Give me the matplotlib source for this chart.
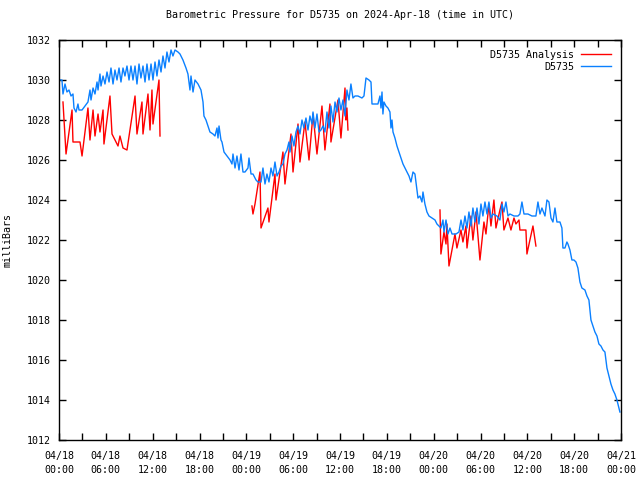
import matplotlib
matplotlib.use("Agg")
import matplotlib.pyplot as plt
import numpy as np

# hours since 2024-04-18 00:00 UTC
obs_hours = [
    0.13, 0.38, 0.51, 0.77, 1.02, 1.28, 1.54, 1.79, 1.92, 2.18, 2.43, 2.56, 2.95, 3.33, 3.71,
    3.97, 4.10, 4.36, 4.61, 4.87, 5.00, 5.25, 5.38, 5.64, 5.89, 6.15, 6.41, 6.66, 6.92, 7.17,
    7.43, 7.69, 7.94, 8.20, 8.45, 8.71, 8.97, 9.22, 9.48, 9.74, 9.99, 10.25, 10.50, 10.76,
    11.02, 11.27, 11.53, 11.79, 12.04, 12.30, 12.55, 12.81, 13.07, 13.32, 13.58, 13.83,
    14.09, 14.35, 14.60, 14.86, 15.24, 15.50, 15.88, 16.27, 16.52, 16.78, 16.91, 17.17,
    17.42, 17.81, 18.19, 18.45, 18.57, 18.83, 19.09, 19.34, 19.73, 19.98, 20.24, 20.37,
    20.50, 20.75, 20.88, 21.14, 21.52, 21.91, 22.16, 22.29, 22.55, 22.80, 23.06, 23.31,
    23.57, 23.83, 24.21, 24.34, 24.60, 24.85, 25.24, 25.49, 25.88, 26.13, 26.39, 26.64,
    26.90, 27.16, 27.41, 27.67, 27.93, 28.18, 28.44, 28.69, 28.95, 29.21, 29.46, 29.59,
    29.85, 30.10, 30.36, 30.62, 30.87, 31.13, 31.38, 31.64, 31.90, 32.15, 32.41, 32.54,
    32.79, 33.05, 33.31, 33.56, 33.82, 34.07, 34.33, 34.59, 34.84, 35.10, 35.36, 35.61,
    35.87, 36.12, 36.38, 36.64, 36.89, 37.15, 37.40, 37.66, 37.92, 38.30, 38.81, 39.07,
    39.33, 39.71, 39.97, 40.10, 40.48, 40.86, 41.12, 41.25, 41.38, 41.50, 41.63, 41.89,
    42.14, 42.40, 42.53, 42.66, 42.79, 43.04, 43.30, 43.55, 43.81, 44.07, 44.32, 44.58,
    44.84, 45.09, 45.35, 45.60, 45.86, 45.99, 46.24, 46.50, 46.63, 46.88, 47.14, 47.40,
    47.78, 48.17, 48.42, 48.68, 48.93, 49.19, 49.32, 49.58, 49.83, 50.09, 50.35, 50.86,
    51.24, 51.50, 51.75, 52.01, 52.27, 52.52, 52.78, 53.03, 53.29, 53.55, 53.80, 54.06,
    54.31, 54.57, 54.83, 55.08, 55.34, 55.60, 56.11, 56.49, 56.75, 57.00, 57.26, 57.52,
    57.77, 58.29, 58.80, 59.05, 59.31, 59.57, 60.08, 60.59, 61.10, 61.36, 61.62, 61.87,
    62.26, 62.51, 62.77, 63.03, 63.28, 63.54, 63.79, 64.18, 64.43, 64.56, 64.82, 65.07,
    65.20, 65.46, 65.71, 65.97, 66.23, 66.48, 66.74, 66.99, 67.38, 67.64, 67.89, 68.15,
    68.40, 68.66, 68.92, 69.17, 69.43, 69.69, 69.94, 70.20, 70.46, 70.71, 70.97, 71.22,
    71.48, 71.74, 71.86,
]
obs_mb = [
    1030.0, 1030.0, 1029.3, 1029.8, 1029.4, 1029.5, 1029.2, 1029.3, 1028.6, 1028.4, 1028.8,
    1028.5, 1028.5, 1028.7, 1028.9, 1029.5, 1029.0, 1029.6, 1029.3, 1029.9, 1029.5, 1030.3,
    1029.7, 1030.2, 1029.8, 1030.4, 1029.9, 1030.6, 1029.8, 1030.5, 1030.0, 1030.6, 1029.9,
    1030.6, 1030.2, 1030.7, 1030.0, 1030.7, 1030.0, 1030.7, 1029.8, 1030.8, 1030.1, 1030.7,
    1029.9, 1030.8, 1030.0, 1030.8, 1030.0, 1030.9, 1030.2, 1031.0, 1030.4, 1031.2, 1030.6,
    1031.4, 1030.9, 1031.5, 1031.2, 1031.5, 1031.4, 1031.3, 1031.0, 1030.6, 1030.3, 1029.5,
    1030.2, 1029.4, 1030.0, 1029.8, 1029.5, 1028.9, 1028.2, 1028.0, 1027.7, 1027.4, 1027.3,
    1027.2, 1027.6, 1027.1, 1027.7, 1027.0, 1026.9, 1026.4, 1026.2, 1026.0, 1025.8, 1026.3,
    1025.6, 1026.2, 1025.5, 1026.3, 1025.4, 1025.4, 1025.6, 1026.1, 1025.3, 1025.3, 1025.0,
    1024.9, 1024.9, 1025.6, 1024.8, 1025.3, 1024.9, 1025.6, 1025.2, 1025.9, 1025.2, 1025.4,
    1025.7, 1025.8, 1026.3, 1026.5, 1026.9, 1026.4, 1027.2, 1026.7, 1027.4, 1027.7, 1027.3,
    1028.0, 1027.6, 1028.1, 1027.5, 1028.2, 1027.8, 1028.4, 1027.6, 1028.3, 1027.4, 1027.5,
    1027.7, 1027.4, 1028.4, 1027.6, 1028.7, 1027.9, 1028.9, 1028.4, 1029.1, 1028.5, 1029.0,
    1028.2, 1029.5, 1029.0, 1029.8, 1029.1, 1029.2, 1029.2, 1029.1, 1029.2, 1030.1, 1030.0,
    1029.9, 1028.8, 1028.8, 1028.8, 1029.2, 1028.6, 1029.4, 1028.3, 1028.9, 1028.7, 1028.6,
    1028.4, 1027.6, 1028.0, 1027.4, 1027.1, 1026.7, 1026.4, 1026.1, 1025.8, 1025.6, 1025.4,
    1025.2, 1024.9, 1025.4, 1025.3, 1024.5, 1024.1, 1024.2, 1023.9, 1024.4, 1023.8, 1023.4,
    1023.2, 1023.1, 1023.0, 1022.8, 1022.7, 1022.6, 1023.0, 1022.4, 1023.0, 1022.3, 1022.6,
    1022.3, 1022.3, 1022.4, 1023.0, 1022.5, 1023.2, 1022.6, 1023.4, 1022.7, 1023.6, 1022.9,
    1023.6, 1022.8, 1023.8, 1023.2, 1023.9, 1023.3, 1023.9, 1023.1, 1023.3, 1023.2, 1023.0,
    1023.8, 1023.4, 1023.9, 1023.2, 1023.3, 1023.2, 1023.2, 1023.3, 1023.9, 1023.3, 1023.3,
    1023.2, 1023.2, 1023.9, 1023.3, 1023.6, 1023.2, 1024.0, 1023.9, 1023.1, 1022.9, 1023.6,
    1022.9, 1022.9, 1022.6, 1021.6, 1021.6, 1021.9, 1021.8, 1021.5, 1021.0, 1021.0, 1020.9,
    1020.6, 1019.9, 1019.6, 1019.5, 1019.2, 1019.0, 1018.0, 1017.7, 1017.4, 1017.2, 1016.8,
    1016.7, 1016.5, 1016.4, 1015.6, 1015.2, 1014.8, 1014.5, 1014.3, 1014.0, 1013.6, 1013.4,
]

# analysis runs, NaN marks the gaps between them
ana_hours = [
    0.51, 0.90, 1.67, 1.79, 2.69, 2.95, 3.71, 3.97, 4.36, 4.61, 5.00, 5.25, 5.64, 5.76, 6.53,
    6.79, 7.56, 7.81, 8.20, 8.71, 9.74, 9.99, 10.63, 10.76, 11.40, 11.66, 11.91, 12.04,
    12.81, 12.94, np.nan,
    24.72, 24.85, 25.11, 25.75, 25.88, 26.77, 26.90, 27.67, 27.80, 28.69, 28.95, 29.72,
    29.98, 30.62, 30.87, 31.51, 32.03, 32.54, 33.05, 33.69, 34.07, 34.71, 34.84, 35.74,
    36.12, 36.64, 36.76, 36.89, 37.02, np.nan,
    48.81, 48.93, 49.32, 49.58, 49.70, 49.96, 50.73, 50.98, 51.50, 51.75, 52.14, 52.27,
    52.78, 53.03, 53.42, 53.93, 54.44, 54.70, 55.08, 55.34, 55.72, 55.98, 56.49, 56.75,
    57.00, 57.52, 57.90, 58.29, 58.54, 58.93, 59.05, 59.82, 59.95, 60.33, 60.72, 61.10,
]
ana_mb = [
    1028.9, 1026.3, 1028.5, 1026.9, 1026.9, 1026.2, 1028.6, 1027.0, 1028.5, 1027.2, 1028.3,
    1027.4, 1028.5, 1026.8, 1029.2, 1027.3, 1026.7, 1027.2, 1026.6, 1026.5, 1029.2, 1027.3,
    1028.9, 1027.3, 1029.3, 1027.5, 1029.5, 1027.8, 1030.0, 1027.2, np.nan,
    1023.7, 1023.3, 1023.8, 1025.4, 1022.6, 1023.6, 1022.9, 1025.3, 1024.0, 1026.4, 1024.8,
    1027.3, 1025.4, 1027.8, 1025.9, 1027.9, 1026.0, 1028.3, 1026.3, 1028.7, 1026.5, 1028.8,
    1026.9, 1029.0, 1027.1, 1029.6, 1028.0, 1028.6, 1027.5, np.nan,
    1023.5, 1021.3, 1022.4, 1021.8, 1022.8, 1020.7, 1022.3, 1021.6, 1022.5, 1021.9, 1022.7,
    1021.6, 1023.2, 1022.0, 1023.4, 1021.0, 1022.9, 1022.3, 1023.8, 1022.7, 1024.0, 1022.6,
    1023.5, 1023.9, 1022.5, 1023.1, 1022.5, 1023.1, 1022.8, 1023.0, 1022.5, 1022.5, 1021.3,
    1022.0, 1022.7, 1021.7,
]

tick_hours = list(range(0, 73, 6))
tick_labels = ["04/18\n00:00", "04/18\n06:00", "04/18\n12:00", "04/18\n18:00",
               "04/19\n00:00", "04/19\n06:00", "04/19\n12:00", "04/19\n18:00",
               "04/20\n00:00", "04/20\n06:00", "04/20\n12:00", "04/20\n18:00",
               "04/21\n00:00"]

plt.rcParams['font.family'] = 'DejaVu Sans Mono'
plt.rcParams['font.size'] = 7.2

fig = plt.figure(figsize=(6.4, 4.8), dpi=100)
ax = fig.add_axes([59 / 640, 40 / 480, 562 / 640, 400 / 480])

ax.plot(ana_hours, ana_mb, color='#ff0000', lw=1, label='D5735 Analysis')
ax.plot(obs_hours, obs_mb, color='#0a80ff', lw=1, label='D5735')

ax.set_xlim(0, 72)
ax.set_ylim(1012, 1032)
ax.set_xticks(tick_hours)
ax.set_xticklabels(tick_labels, linespacing=1.5)
ax.set_xticks(list(range(3, 72, 6)), minor=True)
ax.set_yticks(list(range(1012, 1033, 2)))
ax.tick_params(direction='in', top=True, right=True, length=5, width=1)
ax.tick_params(axis='x', pad=8)
ax.tick_params(axis='y', pad=6)
ax.tick_params(which='minor', direction='in', top=True, length=5, width=1)
for s in ax.spines.values():
    s.set_linewidth(1)

ax.set_ylabel('milliBars', labelpad=10)
ax.set_title('Barometric Pressure for D5735 on 2024-Apr-18 (time in UTC)',
             fontsize=7.2, pad=16)

ax.legend(loc='upper right', frameon=False, markerfirst=False, handlelength=3.0,
          handletextpad=0.7, labelspacing=0.2, borderaxespad=0.6)

fig.savefig('out.png', dpi=100)
